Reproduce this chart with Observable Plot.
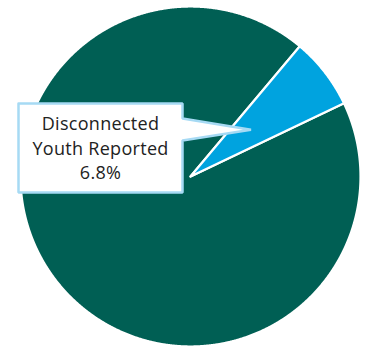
<!DOCTYPE html>
<html>
<head>
<meta charset="utf-8">
<script src="https://cdn.jsdelivr.net/npm/d3@7"></script>
<script src="https://cdn.jsdelivr.net/npm/@observablehq/plot@0.6"></script>
<style>
  html, body { margin: 0; padding: 0; background: #fff; }
  #chart { width: 381px; height: 347px; }
  #chart text { letter-spacing: 0.3px; }
</style>
</head>
<body>
<div id="chart"></div>
<script>
// ---- data ----
const categories = ["Not Disconnected", "Disconnected Youth Reported"];
const values = [93.2, 6.8];
const colors = ["#005f54", "#00a3df"];
const labelText = "Disconnected\nYouth Reported\n6.8%";
const labelIndex = 1;

// ---- layout (pixels) ----
const W = 381, H = 347;
const CX = 190, CY = 176, R = 170;
const startDeg = 64.5;

const toX = px => (px - CX) / R;
const toY = py => (CY - py) / R;

const pie = d3.pie().sort(null)
  .startAngle(startDeg * Math.PI / 180)
  .endAngle(startDeg * Math.PI / 180 + 2 * Math.PI)(values);

const slicePts = [];
pie.forEach((a, i) => {
  slicePts.push({x: 0, y: 0, name: categories[i]});
  const n = Math.max(2, Math.ceil((a.endAngle - a.startAngle) / 0.004));
  for (let k = 0; k <= n; k++) {
    const t = a.startAngle + (a.endAngle - a.startAngle) * k / n;
    slicePts.push({x: Math.sin(t), y: Math.cos(t), name: categories[i]});
  }
  slicePts.push({x: 0, y: 0, name: categories[i]});
});

// callout pointer tip at 0.45 r along the labelled slice's mid-angle
const la = pie[labelIndex];
const mid = (la.startAngle + la.endAngle) / 2;
const tip = {x: 0.45 * Math.sin(mid), y: 0.45 * Math.cos(mid)};
const box = {l: 18, r: 182, t: 103, b: 192, pt: 118, pb: 140};
const callout = [
  {x: toX(box.l), y: toY(box.t)},
  {x: toX(box.r), y: toY(box.t)},
  {x: toX(box.r), y: toY(box.pt)},
  tip,
  {x: toX(box.r), y: toY(box.pb)},
  {x: toX(box.r), y: toY(box.b)},
  {x: toX(box.l), y: toY(box.b)},
  {x: toX(box.l), y: toY(box.t)}
];

const chart = Plot.plot({
  width: W,
  height: H,
  margin: 0,
  x: {domain: [toX(0), toX(W)], axis: null},
  y: {domain: [toY(H), toY(0)], axis: null},
  color: {domain: categories, range: colors},
  style: {background: "#fff", fontFamily: "'Open Sans', sans-serif"},
  marks: [
    Plot.line(slicePts, {x: "x", y: "y", z: "name", fill: "name", stroke: "#fff", strokeWidth: 2.2, strokeLinejoin: "round", curve: "linear"}),
    Plot.line(callout, {x: "x", y: "y", fill: "#fff", stroke: "#a6daf4", strokeWidth: 2.5, strokeLinejoin: "miter"}),
    Plot.text([labelText], {
      x: toX((box.l + box.r) / 2),
      y: toY(146.5),
      text: d => d,
      fontSize: 18,
      lineHeight: 1.36,
      lineAnchor: "middle",
      textAnchor: "middle",
      fill: "#222"
    })
  ]
});
document.getElementById("chart").appendChild(chart);
</script>
</body>
</html>
